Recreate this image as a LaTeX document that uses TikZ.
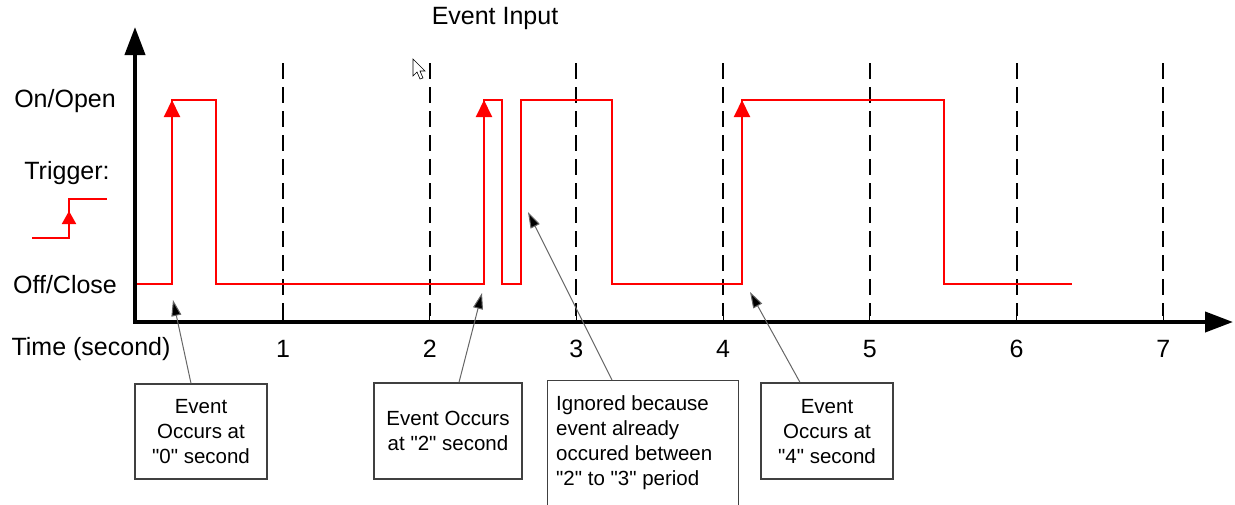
\documentclass[tikz,border=0pt]{standalone}
\usepackage{fontspec}
\setmainfont{Liberation Sans}[Ligatures=TeXOff]
\usetikzlibrary{arrows.meta}
\begin{document}
\begin{tikzpicture}[x=1pt,y=-1pt,
  big/.style={font=\fontsize{25}{30}\selectfont, text=black, inner sep=0pt},
  small/.style={font=\fontsize{20.5}{25}\selectfont, text=black},
  sig/.style={red, line width=2pt, line join=miter},
  evarr/.style={red, line width=2pt, -{Triangle[length=17pt,width=16pt]}},
  axis/.style={black, line width=4pt, {Triangle[length=28pt,width=20pt]}-{Triangle[length=28pt,width=20pt]}},
  grid/.style={black, line width=2pt, dash pattern=on 16pt off 8pt},
  tick/.style={black, line width=1.2pt},
  box/.style={draw=black!75, line width=1.3pt, fill=white, inner sep=0pt},
  ann/.style={draw=black!60, line width=1pt, -{Triangle[length=16pt,width=10pt,fill=black]}}]
\useasboundingbox (0,0) rectangle (1235,504);

% axes
\coordinate (ytip) at (135,27);
\coordinate (orig) at (135,322);
\coordinate (xtip) at (1233,322);
\draw[axis] (ytip) -- (orig) -- (xtip);

% title and y labels
\node[big] (title) at (495,18) {Event Input};
\node[big] (on) at (65,101) {On/Open};
\node[big] (trig) at (67,173) {Trigger:};
\node[big] (off) at (65,285) {Off/Close};
\node[big] (time) at (91,349) {Time (second)};

% grid lines, ticks, numbers
\foreach \i in {1,...,7}{
  \pgfmathsetmacro{\xx}{136.3+146.7*\i}
  \draw[grid] (\xx,63) -- (\xx,316);
  \draw[tick] (\xx,322) -- (\xx,305);
  \node[big] (n\i) at (\xx,349) {\i};
}

% trigger icon
\draw[sig] (32,238) -- (69,238) -- (69,199) -- (107,199);
\coordinate (tgb) at (69,238);
\coordinate (tgt) at (69,211);
\draw[red, line width=2pt, -{Triangle[length=13pt,width=14pt]}] (tgb) -- (tgt);

% signal
\draw[sig] (137,284) -- (172,284) -- (172,100) -- (216,100) -- (216,284)
  -- (484,284) -- (484,100) -- (502,100) -- (502,284) -- (521,284)
  -- (521,100) -- (612,100) -- (612,284) -- (742,284) -- (742,100)
  -- (944,100) -- (944,284) -- (1072,284);
\foreach \x/\n in {172/a,484/b,742/c}{
  \coordinate (e\n0) at (\x,284);
  \coordinate (e\n1) at (\x,100);
  \draw[evarr] (e\n0) -- (e\n1);
}

% cursor
\draw[black, line width=0.6pt, fill=white] (413,59) -- (413,76) -- (417,72) -- (420,79) -- (423,78) -- (420,71) -- (425,71) -- cycle;

% annotation boxes
\node[box, minimum width=132pt, minimum height=95pt] (b1) at (201,431.5) {};
\node[small, align=center] (b1t) at (201,432) {Event\\Occurs at\\"0" second};
\node[box, minimum width=148pt, minimum height=96pt] (b2) at (448,431) {};
\node[small, align=center] (b2t) at (448,431) {Event Occurs\\at "2" second};
\node[box, minimum width=191pt, minimum height=140pt, anchor=north west] (b3) at (547,380) {};
\node[small, align=left, anchor=north west, inner sep=0pt] (b3t) at (556,395) {Ignored because\\event already\\occured between\\"2" to "3" period};
\node[box, minimum width=132pt, minimum height=96pt] (b4) at (827,431) {};
\node[small, align=center] (b4t) at (827,432) {Event\\Occurs at\\"4" second};

% annotation arrows
\coordinate (t1) at (173,300);
\coordinate (t2) at (482,293);
\coordinate (t3) at (528,212);
\coordinate (t4) at (750,292);
\draw[ann] ([xshift=-10pt]b1.north) -- (t1);
\draw[ann] ([xshift=11pt]b2.north) -- (t2);
\draw[ann] ([xshift=65pt]b3.north west) -- (t3);
\draw[ann] ([xshift=-27pt]b4.north) -- (t4);
\end{tikzpicture}
\end{document}
